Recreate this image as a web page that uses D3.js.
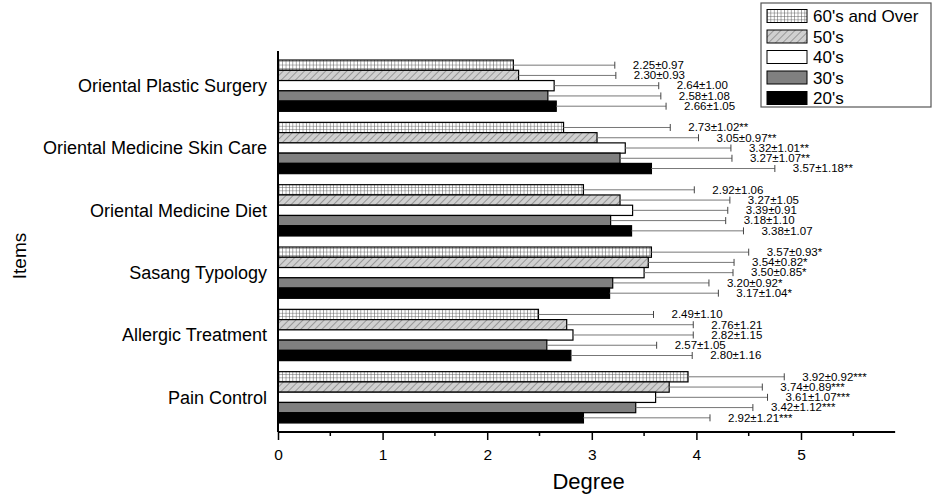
<!DOCTYPE html>
<html>
<head>
<meta charset="utf-8">
<script src="https://cdn.jsdelivr.net/npm/d3@7"></script>
<style>
  body { margin: 0; background: #fff; }
  svg { display: block; font-family: "Liberation Sans", Arial, sans-serif; }
</style>
</head>
<body>
<svg width="936" height="494"></svg>
<script>
// категории (сверху вниз) и группы возраста
const categories = [
  "Oriental Plastic Surgery",
  "Oriental Medicine Skin Care",
  "Oriental Medicine Diet",
  "Sasang Typology",
  "Allergic Treatment",
  "Pain Control",
];
const series = ["60's and Over", "50's", "40's", "30's", "20's"];

// средние значения
const mean60 = [2.25, 2.73, 2.92, 3.57, 2.49, 3.92];
const mean50 = [2.3, 3.05, 3.27, 3.54, 2.76, 3.74];
const mean40 = [2.64, 3.32, 3.39, 3.5, 2.82, 3.61];
const mean30 = [2.58, 3.27, 3.18, 3.2, 2.57, 3.42];
const mean20 = [2.66, 3.57, 3.38, 3.17, 2.8, 2.92];

// стандартные отклонения
const sd60 = [0.97, 1.02, 1.06, 0.93, 1.1, 0.92];
const sd50 = [0.93, 0.97, 1.05, 0.82, 1.21, 0.89];
const sd40 = [1.0, 1.01, 0.91, 0.85, 1.15, 1.07];
const sd30 = [1.08, 1.07, 1.1, 0.92, 1.05, 1.12];
const sd20 = [1.05, 1.18, 1.07, 1.04, 1.16, 1.21];

// значимость по категориям
const signif = ["", "**", "", "*", "", "***"];

const xTicks = [0, 1, 2, 3, 4, 5];
const xMax = 5.9;

const allMeans = [mean60, mean50, mean40, mean30, mean20];
const allSd = [sd60, sd50, sd40, sd30, sd20];

function createArrGraph() {
  let arrGraph = [];
  categories.forEach((cat, i) => {
    series.forEach((s, j) => {
      arrGraph.push({
        cat: cat,
        key: s,
        mean: allMeans[j][i],
        sd: allSd[j][i],
        star: signif[i],
      });
    });
  });
  return arrGraph;
}

function createPatterns(svg) {
  const defs = svg.append("defs");

  const grid = defs
    .append("pattern")
    .attr("id", "pat-grid")
    .attr("patternUnits", "userSpaceOnUse")
    .attr("width", 3.4)
    .attr("height", 3.4);
  grid.append("rect").attr("width", 3.4).attr("height", 3.4).attr("fill", "#fff");
  grid
    .append("path")
    .attr("d", "M0,0V3.4M0,0H3.4")
    .attr("stroke", "#555")
    .attr("stroke-width", 1);

  const hatch = defs
    .append("pattern")
    .attr("id", "pat-hatch")
    .attr("patternUnits", "userSpaceOnUse")
    .attr("width", 5)
    .attr("height", 5)
    .attr("patternTransform", "rotate(45)");
  hatch.append("rect").attr("width", 5).attr("height", 5).attr("fill", "#d0d0d0");
  hatch
    .append("path")
    .attr("d", "M0,0V5")
    .attr("stroke", "#555")
    .attr("stroke-width", 0.9);
}

const fills = {
  "60's and Over": "url(#pat-grid)",
  "50's": "url(#pat-hatch)",
  "40's": "#ffffff",
  "30's": "#808080",
  "20's": "#000000",
};

function drawGraph() {
  const svg = d3.select("svg");
  const attr_area = { left: 278, right: 278 + xMax * 104.6, top: 51, bottom: 432 };

  createPatterns(svg);
  const data = createArrGraph();

  const scX = d3.scaleLinear().domain([0, xMax]).range([attr_area.left, attr_area.right]);
  const scY = d3
    .scaleBand()
    .domain(categories)
    .range([attr_area.top, attr_area.bottom])
    .paddingInner(0.177)
    .paddingOuter(0.145);
  const scS = d3.scaleBand().domain(series).range([0, scY.bandwidth()]);

  // бары
  svg
    .append("g")
    .selectAll("rect")
    .data(data)
    .enter()
    .append("rect")
    .attr("x", scX(0))
    .attr("y", (d) => scY(d.cat) + scS(d.key))
    .attr("width", (d) => scX(d.mean) - scX(0))
    .attr("height", scS.bandwidth())
    .attr("fill", (d) => fills[d.key])
    .attr("stroke", "#000")
    .attr("stroke-width", 1.2);

  // планки погрешностей
  const err = svg.append("g");
  const cy = (d) => scY(d.cat) + scS(d.key) + scS.bandwidth() / 2;
  err
    .selectAll("line.err")
    .data(data)
    .enter()
    .append("line")
    .attr("x1", (d) => scX(d.mean))
    .attr("x2", (d) => scX(d.mean + d.sd))
    .attr("y1", cy)
    .attr("y2", cy)
    .attr("stroke", "#777")
    .attr("stroke-width", 1);
  err
    .selectAll("line.cap")
    .data(data)
    .enter()
    .append("line")
    .attr("x1", (d) => scX(d.mean + d.sd))
    .attr("x2", (d) => scX(d.mean + d.sd))
    .attr("y1", (d) => cy(d) - 3.5)
    .attr("y2", (d) => cy(d) + 3.5)
    .attr("stroke", "#444")
    .attr("stroke-width", 1);

  // подписи значений
  svg
    .append("g")
    .selectAll("text")
    .data(data)
    .enter()
    .append("text")
    .attr("x", (d) => scX(d.mean + d.sd) + 18)
    .attr("y", (d) => cy(d) + 3.8)
    .attr("font-size", "11.5px")
    .attr("fill", "#000")
    .text((d) => d.mean.toFixed(2) + "±" + d.sd.toFixed(2) + d.star);

  // ось X
  const axisX = svg
    .append("g")
    .attr("transform", `translate(0, ${attr_area.bottom})`);
  axisX
    .append("line")
    .attr("x1", attr_area.left)
    .attr("x2", attr_area.right)
    .attr("stroke", "#000")
    .attr("stroke-width", 2);
  axisX
    .call(d3.axisBottom(scX).tickValues(xTicks).tickSize(8).tickFormat(d3.format("d")))
    .call((g) => g.select(".domain").remove())
    .call((g) => g.selectAll(".tick line").attr("stroke-width", 1.5))
    .call((g) =>
      g
        .selectAll(".tick text")
        .attr("font-size", "15.5px")
        .attr("font-family", "Liberation Sans, Arial, sans-serif")
        .attr("dy", "1.1em")
        .attr("fill", "#000"),
    );
  axisX
    .selectAll("line.minor")
    .data(d3.range(0.5, xMax, 1))
    .enter()
    .append("line")
    .attr("x1", (d) => scX(d))
    .attr("x2", (d) => scX(d))
    .attr("y2", 4)
    .attr("stroke", "#000")
    .attr("stroke-width", 1.5);

  // ось Y
  svg
    .append("line")
    .attr("x1", attr_area.left)
    .attr("x2", attr_area.left)
    .attr("y1", attr_area.top)
    .attr("y2", attr_area.bottom)
    .attr("stroke", "#000")
    .attr("stroke-width", 2);

  svg
    .append("g")
    .selectAll("text")
    .data(categories)
    .enter()
    .append("text")
    .attr("x", 267)
    .attr("y", (d) => scY(d) + scY.bandwidth() / 2)
    .attr("dy", "0.35em")
    .attr("text-anchor", "end")
    .attr("font-size", "18px")
    .text((d) => d);

  // названия осей
  svg
    .append("text")
    .attr("x", (attr_area.left + attr_area.right) / 2 + 2)
    .attr("y", 489)
    .attr("text-anchor", "middle")
    .attr("font-size", "22px")
    .text("Degree");
  svg
    .append("text")
    .attr("transform", "translate(26, 256) rotate(-90)")
    .attr("text-anchor", "middle")
    .attr("font-size", "19px")
    .text("Items");

  createLegend(svg);
}

function createLegend(svg) {
  const lg = svg.append("g").attr("transform", "translate(761, 3)");
  lg.append("rect")
    .attr("width", 170)
    .attr("height", 104)
    .attr("fill", "#fff")
    .attr("stroke", "#555")
    .attr("stroke-width", 1.2);

  const rows = lg
    .selectAll("g.row")
    .data(series)
    .enter()
    .append("g")
    .attr("transform", (d, i) => `translate(6, ${13 + i * 20.5})`);
  rows
    .append("rect")
    .attr("y", -6.5)
    .attr("width", 40)
    .attr("height", 13)
    .attr("fill", (d) => fills[d])
    .attr("stroke", "#000")
    .attr("stroke-width", 1);
  rows
    .append("text")
    .attr("x", 46)
    .attr("dy", "0.36em")
    .attr("font-size", "17px")
    .text((d) => d);
}

drawGraph();
</script>
</body>
</html>
